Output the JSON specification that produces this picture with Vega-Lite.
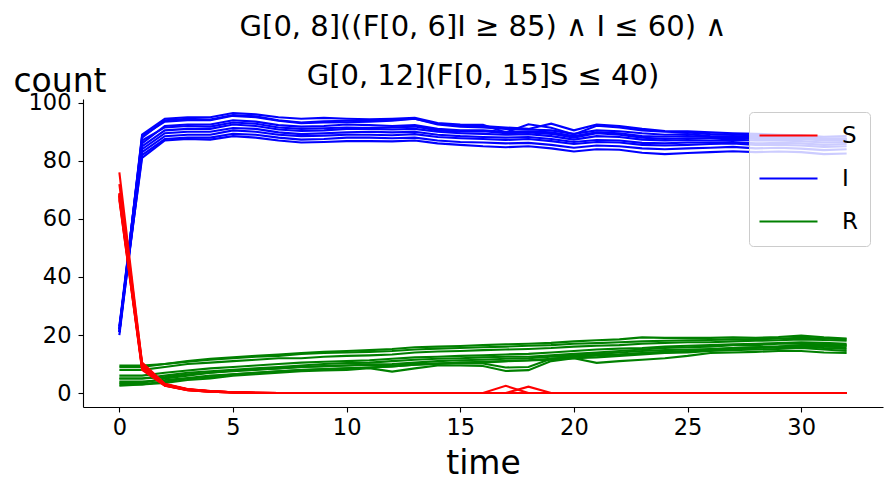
{
  "$schema": "https://vega.github.io/schema/vega-lite/v6.json",
  "description": "Trajectories of S, I and R counts over time for several runs.",
  "width": 800,
  "height": 308,
  "autosize": "none",
  "padding": {"left": 83, "top": 99, "right": 10, "bottom": 83},
  "title": {
    "text": ["G[0, 8]((F[0, 6]I ≥ 85) ∧ I ≤ 60) ∧", "G[0, 12](F[0, 15]S ≤ 40)"],
    "font": "DejaVu Sans",
    "fontSize": 29,
    "fontWeight": "normal",
    "color": "black",
    "lineHeight": 49,
    "anchor": "middle",
    "baseline": "bottom",
    "offset": 0,
    "dy": 55
  },
  "data": {
    "values": [
      {"r":"A","t":0,"S":76,"I":21,"R":3},{"r":"A","t":1,"S":10,"I":89,"R":3},{"r":"A","t":2,"S":3,"I":94.5,"R":3.5},{"r":"A","t":3,"S":1.2,"I":95,"R":4.5},{"r":"A","t":4,"S":0.6,"I":95,"R":5},{"r":"A","t":5,"S":0.3,"I":96.5,"R":6},{"r":"A","t":6,"S":0.1,"I":96,"R":6.5},{"r":"A","t":7,"S":0,"I":95,"R":7},{"r":"A","t":8,"S":0,"I":94.5,"R":7.5},{"r":"A","t":9,"S":0,"I":94.8,"R":7.8},{"r":"A","t":10,"S":0,"I":94.5,"R":8},{"r":"A","t":11,"S":0,"I":94.3,"R":8.6},{"r":"A","t":12,"S":0,"I":94.5,"R":7.4},{"r":"A","t":13,"S":0,"I":94.8,"R":8.5},{"r":"A","t":14,"S":0,"I":93,"R":9.5},{"r":"A","t":15,"S":0,"I":92.5,"R":9.5},{"r":"A","t":16,"S":0,"I":92.4,"R":9.3},{"r":"A","t":17,"S":2.5,"I":89.8,"R":7.6},{"r":"A","t":18,"S":0,"I":92.6,"R":7.9},{"r":"A","t":19,"S":0,"I":91.4,"R":11},{"r":"A","t":20,"S":0,"I":89.1,"R":12},{"r":"A","t":21,"S":0,"I":92.1,"R":10.4},{"r":"A","t":22,"S":0,"I":91.5,"R":11},{"r":"A","t":23,"S":0,"I":90.5,"R":11.5},{"r":"A","t":24,"S":0,"I":90,"R":12},{"r":"A","t":25,"S":0,"I":89.8,"R":12.8},{"r":"A","t":26,"S":0,"I":89.2,"R":13.8},{"r":"A","t":27,"S":0,"I":89,"R":14},{"r":"A","t":28,"S":0,"I":88.8,"R":14.2},{"r":"A","t":29,"S":0,"I":88.5,"R":14.5},{"r":"A","t":30,"S":0,"I":88.2,"R":14.5},{"r":"A","t":31,"S":0,"I":87.8,"R":14},{"r":"A","t":32,"S":0,"I":87.5,"R":13.8},
      {"r":"B","t":0,"S":68.5,"I":22,"R":4},{"r":"B","t":1,"S":9.5,"I":88,"R":4},{"r":"B","t":2,"S":2.8,"I":94,"R":4.5},{"r":"B","t":3,"S":1.2,"I":94.5,"R":5.2},{"r":"B","t":4,"S":0.6,"I":94.2,"R":6},{"r":"B","t":5,"S":0.3,"I":95.8,"R":6.5},{"r":"B","t":6,"S":0.1,"I":95.3,"R":7},{"r":"B","t":7,"S":0,"I":94,"R":7.5},{"r":"B","t":8,"S":0,"I":93.2,"R":7.8},{"r":"B","t":9,"S":0,"I":93.6,"R":8.2},{"r":"B","t":10,"S":0,"I":93.8,"R":8.5},{"r":"B","t":11,"S":0,"I":94,"R":8.8},{"r":"B","t":12,"S":0,"I":94.2,"R":9.2},{"r":"B","t":13,"S":0,"I":94.5,"R":9.8},{"r":"B","t":14,"S":0,"I":92.8,"R":10.2},{"r":"B","t":15,"S":0,"I":92,"R":10.5},{"r":"B","t":16,"S":0,"I":92,"R":10.8},{"r":"B","t":17,"S":0,"I":91.5,"R":11},{"r":"B","t":18,"S":0,"I":91,"R":11.3},{"r":"B","t":19,"S":0,"I":92.8,"R":11.8},{"r":"B","t":20,"S":0,"I":90.5,"R":12.5},{"r":"B","t":21,"S":0,"I":92.5,"R":13},{"r":"B","t":22,"S":0,"I":92,"R":13.3},{"r":"B","t":23,"S":0,"I":91,"R":13.8},{"r":"B","t":24,"S":0,"I":90.3,"R":14.2},{"r":"B","t":25,"S":0,"I":90.2,"R":14.5},{"r":"B","t":26,"S":0,"I":89.8,"R":14.8},{"r":"B","t":27,"S":0,"I":89.5,"R":15.2},{"r":"B","t":28,"S":0,"I":89.3,"R":15.5},{"r":"B","t":29,"S":0,"I":89,"R":15.8},{"r":"B","t":30,"S":0,"I":88.8,"R":16},{"r":"B","t":31,"S":0,"I":88.3,"R":15.5},{"r":"B","t":32,"S":0,"I":88.5,"R":15.2},
      {"r":"C","t":0,"S":68,"I":21,"R":5},{"r":"C","t":1,"S":9,"I":86,"R":5},{"r":"C","t":2,"S":2.6,"I":92,"R":6},{"r":"C","t":3,"S":1.1,"I":92.5,"R":7},{"r":"C","t":4,"S":0.5,"I":92.5,"R":7.5},{"r":"C","t":5,"S":0.2,"I":94,"R":8},{"r":"C","t":6,"S":0,"I":93.5,"R":8.5},{"r":"C","t":7,"S":0,"I":92.3,"R":9},{"r":"C","t":8,"S":0,"I":91.8,"R":9.5},{"r":"C","t":9,"S":0,"I":92,"R":10},{"r":"C","t":10,"S":0,"I":92.5,"R":10.3},{"r":"C","t":11,"S":0,"I":92.3,"R":10.5},{"r":"C","t":12,"S":0,"I":92,"R":11},{"r":"C","t":13,"S":0,"I":92.3,"R":11.5},{"r":"C","t":14,"S":0,"I":91,"R":11.8},{"r":"C","t":15,"S":0,"I":90.5,"R":12},{"r":"C","t":16,"S":0,"I":90.5,"R":12.3},{"r":"C","t":17,"S":0,"I":90,"R":12.5},{"r":"C","t":18,"S":0,"I":90.2,"R":12.5},{"r":"C","t":19,"S":0,"I":89.8,"R":13},{"r":"C","t":20,"S":0,"I":88.5,"R":13.5},{"r":"C","t":21,"S":0,"I":89.8,"R":14},{"r":"C","t":22,"S":0,"I":89.5,"R":14.5},{"r":"C","t":23,"S":0,"I":88.5,"R":15},{"r":"C","t":24,"S":0,"I":88.3,"R":15.5},{"r":"C","t":25,"S":0,"I":88.5,"R":15.8},{"r":"C","t":26,"S":0,"I":88.2,"R":16},{"r":"C","t":27,"S":0,"I":88.5,"R":16.5},{"r":"C","t":28,"S":0,"I":88.2,"R":16.5},{"r":"C","t":29,"S":0,"I":88,"R":17},{"r":"C","t":30,"S":0,"I":87.8,"R":17},{"r":"C","t":31,"S":0,"I":87.3,"R":16.8},{"r":"C","t":32,"S":0,"I":87.5,"R":16.5},
      {"r":"D","t":0,"S":67,"I":23,"R":8},{"r":"D","t":1,"S":8,"I":87,"R":8},{"r":"D","t":2,"S":2.5,"I":91.5,"R":9},{"r":"D","t":3,"S":1,"I":92,"R":10},{"r":"D","t":4,"S":0.5,"I":91.8,"R":10.5},{"r":"D","t":5,"S":0.2,"I":93.2,"R":11},{"r":"D","t":6,"S":0,"I":92.8,"R":11.5},{"r":"D","t":7,"S":0,"I":91.5,"R":12},{"r":"D","t":8,"S":0,"I":91,"R":12},{"r":"D","t":9,"S":0,"I":91.2,"R":12.5},{"r":"D","t":10,"S":0,"I":91.5,"R":12.8},{"r":"D","t":11,"S":0,"I":91.3,"R":13},{"r":"D","t":12,"S":0,"I":91.5,"R":13.3},{"r":"D","t":13,"S":0,"I":91.8,"R":14},{"r":"D","t":14,"S":0,"I":90.5,"R":14.3},{"r":"D","t":15,"S":0,"I":90,"R":14.5},{"r":"D","t":16,"S":0,"I":90.2,"R":14.8},{"r":"D","t":17,"S":0,"I":89.5,"R":15},{"r":"D","t":18,"S":0,"I":89.8,"R":15.2},{"r":"D","t":19,"S":0,"I":89.3,"R":15.5},{"r":"D","t":20,"S":0,"I":88,"R":16},{"r":"D","t":21,"S":0,"I":89.5,"R":16.3},{"r":"D","t":22,"S":0,"I":89,"R":16.5},{"r":"D","t":23,"S":0,"I":88,"R":17},{"r":"D","t":24,"S":0,"I":87.5,"R":17.3},{"r":"D","t":25,"S":0,"I":87.8,"R":17.5},{"r":"D","t":26,"S":0,"I":87.8,"R":17.5},{"r":"D","t":27,"S":0,"I":88,"R":17.8},{"r":"D","t":28,"S":0,"I":87.5,"R":18},{"r":"D","t":29,"S":0,"I":87.6,"R":18.2},{"r":"D","t":30,"S":0,"I":87.5,"R":18.5},{"r":"D","t":31,"S":0,"I":87,"R":18.3},{"r":"D","t":32,"S":0,"I":87.2,"R":18},
      {"r":"E","t":0,"S":69,"I":20,"R":9.5},{"r":"E","t":1,"S":9,"I":84,"R":9.5},{"r":"E","t":2,"S":2.8,"I":89.5,"R":10},{"r":"E","t":3,"S":1.3,"I":90,"R":10.8},{"r":"E","t":4,"S":0.7,"I":90,"R":11.5},{"r":"E","t":5,"S":0.3,"I":91.3,"R":12},{"r":"E","t":6,"S":0.1,"I":91,"R":12.5},{"r":"E","t":7,"S":0,"I":89.8,"R":12.8},{"r":"E","t":8,"S":0,"I":89.2,"R":13.5},{"r":"E","t":9,"S":0,"I":89.5,"R":13.8},{"r":"E","t":10,"S":0,"I":89.8,"R":14},{"r":"E","t":11,"S":0,"I":90,"R":14.2},{"r":"E","t":12,"S":0,"I":89.8,"R":14.5},{"r":"E","t":13,"S":0,"I":90,"R":15},{"r":"E","t":14,"S":0,"I":89,"R":15.3},{"r":"E","t":15,"S":0,"I":88.5,"R":15.5},{"r":"E","t":16,"S":0,"I":88.2,"R":15.8},{"r":"E","t":17,"S":0,"I":88,"R":16},{"r":"E","t":18,"S":0,"I":88.2,"R":16.3},{"r":"E","t":19,"S":0,"I":87.5,"R":16.5},{"r":"E","t":20,"S":0,"I":86.5,"R":17},{"r":"E","t":21,"S":0,"I":87.2,"R":17.2},{"r":"E","t":22,"S":0,"I":87,"R":17.5},{"r":"E","t":23,"S":0,"I":86.2,"R":17.8},{"r":"E","t":24,"S":0,"I":86,"R":18},{"r":"E","t":25,"S":0,"I":86.3,"R":18.2},{"r":"E","t":26,"S":0,"I":86.3,"R":18.3},{"r":"E","t":27,"S":0,"I":86.5,"R":18.5},{"r":"E","t":28,"S":0,"I":86,"R":18.5},{"r":"E","t":29,"S":0,"I":86.2,"R":18.8},{"r":"E","t":30,"S":0,"I":86,"R":19},{"r":"E","t":31,"S":0,"I":85.5,"R":18.8},{"r":"E","t":32,"S":0,"I":85.8,"R":18.5},
      {"r":"F","t":0,"S":72,"I":22,"R":6},{"r":"F","t":1,"S":10.5,"I":83,"R":6},{"r":"F","t":2,"S":3.2,"I":88.5,"R":7},{"r":"F","t":3,"S":1.4,"I":89,"R":7.8},{"r":"F","t":4,"S":0.7,"I":89,"R":8.5},{"r":"F","t":5,"S":0.3,"I":90.5,"R":9},{"r":"F","t":6,"S":0.1,"I":90,"R":9.5},{"r":"F","t":7,"S":0,"I":89,"R":10},{"r":"F","t":8,"S":0,"I":88.5,"R":10.5},{"r":"F","t":9,"S":0,"I":88.7,"R":10.8},{"r":"F","t":10,"S":0,"I":89,"R":11},{"r":"F","t":11,"S":0,"I":89,"R":11.3},{"r":"F","t":12,"S":0,"I":88.8,"R":11.8},{"r":"F","t":13,"S":0,"I":89.2,"R":12.3},{"r":"F","t":14,"S":0,"I":88.2,"R":12.5},{"r":"F","t":15,"S":0,"I":87.8,"R":12.8},{"r":"F","t":16,"S":0,"I":87.5,"R":13},{"r":"F","t":17,"S":0,"I":87.2,"R":13.3},{"r":"F","t":18,"S":0,"I":87.5,"R":13.5},{"r":"F","t":19,"S":0,"I":86.8,"R":14},{"r":"F","t":20,"S":0,"I":85.8,"R":14.5},{"r":"F","t":21,"S":0,"I":86.5,"R":15},{"r":"F","t":22,"S":0,"I":86.3,"R":15.3},{"r":"F","t":23,"S":0,"I":85.5,"R":15.5},{"r":"F","t":24,"S":0,"I":85.3,"R":16},{"r":"F","t":25,"S":0,"I":85.5,"R":16.3},{"r":"F","t":26,"S":0,"I":85.8,"R":16.5},{"r":"F","t":27,"S":0,"I":86,"R":16.8},{"r":"F","t":28,"S":0,"I":85.5,"R":17},{"r":"F","t":29,"S":0,"I":85.5,"R":17.2},{"r":"F","t":30,"S":0,"I":85.3,"R":17.5},{"r":"F","t":31,"S":0,"I":84.8,"R":17.3},{"r":"F","t":32,"S":0,"I":85,"R":17},
      {"r":"G","t":0,"S":68,"I":21,"R":3.5},{"r":"G","t":1,"S":10,"I":82,"R":3.5},{"r":"G","t":2,"S":3,"I":87.5,"R":5},{"r":"G","t":3,"S":1.3,"I":88,"R":6},{"r":"G","t":4,"S":0.6,"I":88,"R":7},{"r":"G","t":5,"S":0.3,"I":89.3,"R":7.8},{"r":"G","t":6,"S":0.1,"I":89,"R":8.2},{"r":"G","t":7,"S":0,"I":88,"R":8.5},{"r":"G","t":8,"S":0,"I":87.3,"R":9},{"r":"G","t":9,"S":0,"I":87.5,"R":9.3},{"r":"G","t":10,"S":0,"I":88,"R":9.5},{"r":"G","t":11,"S":0,"I":88,"R":9.8},{"r":"G","t":12,"S":0,"I":87.8,"R":10},{"r":"G","t":13,"S":0,"I":88,"R":10.5},{"r":"G","t":14,"S":0,"I":87,"R":11},{"r":"G","t":15,"S":0,"I":86.5,"R":11.3},{"r":"G","t":16,"S":0,"I":86.3,"R":11.5},{"r":"G","t":17,"S":0,"I":86,"R":11.8},{"r":"G","t":18,"S":0,"I":86.2,"R":12},{"r":"G","t":19,"S":0,"I":85.5,"R":12.5},{"r":"G","t":20,"S":0,"I":84.5,"R":13},{"r":"G","t":21,"S":0,"I":85.3,"R":13.5},{"r":"G","t":22,"S":0,"I":85,"R":14},{"r":"G","t":23,"S":0,"I":84.3,"R":14.5},{"r":"G","t":24,"S":0,"I":84,"R":14.8},{"r":"G","t":25,"S":0,"I":84.3,"R":15},{"r":"G","t":26,"S":0,"I":84.5,"R":15.2},{"r":"G","t":27,"S":0,"I":84.8,"R":15.5},{"r":"G","t":28,"S":0,"I":84.3,"R":15.8},{"r":"G","t":29,"S":0,"I":84.5,"R":16},{"r":"G","t":30,"S":0,"I":84.2,"R":16.2},{"r":"G","t":31,"S":0,"I":83.7,"R":16},{"r":"G","t":32,"S":0,"I":84,"R":15.8},
      {"r":"H","t":0,"S":67.5,"I":23,"R":2.5},{"r":"H","t":1,"S":9.5,"I":81,"R":3},{"r":"H","t":2,"S":3,"I":87,"R":4},{"r":"H","t":3,"S":1.2,"I":87.5,"R":5},{"r":"H","t":4,"S":0.6,"I":87.3,"R":5.5},{"r":"H","t":5,"S":0.3,"I":88.5,"R":6.5},{"r":"H","t":6,"S":0,"I":88,"R":7},{"r":"H","t":7,"S":0,"I":87,"R":7.5},{"r":"H","t":8,"S":0,"I":86.3,"R":8},{"r":"H","t":9,"S":0,"I":86.5,"R":8.3},{"r":"H","t":10,"S":0,"I":86.8,"R":8.5},{"r":"H","t":11,"S":0,"I":86.8,"R":8.8},{"r":"H","t":12,"S":0,"I":86.7,"R":9.2},{"r":"H","t":13,"S":0,"I":87,"R":9.8},{"r":"H","t":14,"S":0,"I":86,"R":10},{"r":"H","t":15,"S":0,"I":85.5,"R":10.5},{"r":"H","t":16,"S":0,"I":85,"R":10.5},{"r":"H","t":17,"S":0,"I":84.7,"R":11},{"r":"H","t":18,"S":0,"I":85,"R":11.2},{"r":"H","t":19,"S":0,"I":84.3,"R":11.5},{"r":"H","t":20,"S":0,"I":83.2,"R":12},{"r":"H","t":21,"S":0,"I":84,"R":12.3},{"r":"H","t":22,"S":0,"I":83.8,"R":12.8},{"r":"H","t":23,"S":0,"I":82.8,"R":13.3},{"r":"H","t":24,"S":0,"I":82.3,"R":13.8},{"r":"H","t":25,"S":0,"I":82.7,"R":14},{"r":"H","t":26,"S":0,"I":83,"R":14.5},{"r":"H","t":27,"S":0,"I":83.3,"R":14.8},{"r":"H","t":28,"S":0,"I":83,"R":15},{"r":"H","t":29,"S":0,"I":83.2,"R":15.2},{"r":"H","t":30,"S":0,"I":83,"R":15.5},{"r":"H","t":31,"S":0,"I":82.3,"R":15},{"r":"H","t":32,"S":0,"I":82.5,"R":14.5},
      {"r":"I","t":0,"S":68.5,"I":21,"R":5},{"r":"I","t":1,"S":8.5,"I":88.5,"R":5},{"r":"I","t":2,"S":2.7,"I":93.5,"R":5.5},{"r":"I","t":3,"S":1.1,"I":94,"R":6.5},{"r":"I","t":4,"S":0.5,"I":94,"R":7},{"r":"I","t":5,"S":0.2,"I":95.5,"R":7.5},{"r":"I","t":6,"S":0,"I":95,"R":8},{"r":"I","t":7,"S":0,"I":93.8,"R":8.5},{"r":"I","t":8,"S":0,"I":93,"R":9},{"r":"I","t":9,"S":0,"I":93.2,"R":9.2},{"r":"I","t":10,"S":0,"I":93.3,"R":9.5},{"r":"I","t":11,"S":0,"I":93.5,"R":9.8},{"r":"I","t":12,"S":0,"I":93.8,"R":9.5},{"r":"I","t":13,"S":0,"I":94.5,"R":10},{"r":"I","t":14,"S":0,"I":92.5,"R":10.2},{"r":"I","t":15,"S":0,"I":91.8,"R":10.3},{"r":"I","t":16,"S":0,"I":91.5,"R":10.2},{"r":"I","t":17,"S":0,"I":91,"R":8.8},{"r":"I","t":18,"S":2.2,"I":90.8,"R":9},{"r":"I","t":19,"S":0,"I":90.5,"R":11.8},{"r":"I","t":20,"S":0,"I":89.3,"R":12.5},{"r":"I","t":21,"S":0,"I":90.5,"R":13},{"r":"I","t":22,"S":0,"I":90.2,"R":13.3},{"r":"I","t":23,"S":0,"I":89.5,"R":13.7},{"r":"I","t":24,"S":0,"I":89,"R":14},{"r":"I","t":25,"S":0,"I":89.2,"R":14.3},{"r":"I","t":26,"S":0,"I":88.5,"R":15},{"r":"I","t":27,"S":0,"I":88.3,"R":15.5},{"r":"I","t":28,"S":0,"I":88,"R":15.8},{"r":"I","t":29,"S":0,"I":88.2,"R":16},{"r":"I","t":30,"S":0,"I":88,"R":16.5},{"r":"I","t":31,"S":0,"I":87.5,"R":16.5},{"r":"I","t":32,"S":0,"I":87.8,"R":16.3},
      {"r":"J","t":0,"S":66.5,"I":22,"R":9},{"r":"J","t":1,"S":8.5,"I":85,"R":9},{"r":"J","t":2,"S":2.6,"I":90.5,"R":10},{"r":"J","t":3,"S":1,"I":91,"R":11},{"r":"J","t":4,"S":0.5,"I":91,"R":11.8},{"r":"J","t":5,"S":0.2,"I":92.5,"R":12.3},{"r":"J","t":6,"S":0,"I":92,"R":12.8},{"r":"J","t":7,"S":0,"I":90.8,"R":13.3},{"r":"J","t":8,"S":0,"I":90.3,"R":13.8},{"r":"J","t":9,"S":0,"I":90.5,"R":14.2},{"r":"J","t":10,"S":0,"I":91,"R":14.5},{"r":"J","t":11,"S":0,"I":91,"R":14.8},{"r":"J","t":12,"S":0,"I":90.8,"R":15.2},{"r":"J","t":13,"S":0,"I":91,"R":15.8},{"r":"J","t":14,"S":0,"I":90,"R":16},{"r":"J","t":15,"S":0,"I":89.5,"R":16.2},{"r":"J","t":16,"S":0,"I":89.3,"R":16.5},{"r":"J","t":17,"S":0,"I":89,"R":16.8},{"r":"J","t":18,"S":0,"I":89.2,"R":17},{"r":"J","t":19,"S":0,"I":88.5,"R":17.3},{"r":"J","t":20,"S":0,"I":87.3,"R":17.8},{"r":"J","t":21,"S":0,"I":88.5,"R":18.2},{"r":"J","t":22,"S":0,"I":88.2,"R":18.5},{"r":"J","t":23,"S":0,"I":87.3,"R":19.2},{"r":"J","t":24,"S":0,"I":87,"R":19},{"r":"J","t":25,"S":0,"I":87.2,"R":19},{"r":"J","t":26,"S":0,"I":87,"R":19},{"r":"J","t":27,"S":0,"I":87.3,"R":19.2},{"r":"J","t":28,"S":0,"I":87,"R":19},{"r":"J","t":29,"S":0,"I":87,"R":19.3},{"r":"J","t":30,"S":0,"I":86.8,"R":19.8},{"r":"J","t":31,"S":0,"I":86.3,"R":19.2},{"r":"J","t":32,"S":0,"I":86.5,"R":18.8}
    ]
  },
  "transform": [{"fold": ["S", "I", "R"], "as": ["species", "count"]}],
  "encoding": {
    "x": {
      "field": "t",
      "type": "quantitative",
      "title": "time",
      "scale": {"domain": [-1.6, 33.6], "nice": false, "zero": false},
      "axis": {"values": [0, 5, 10, 15, 20, 25, 30], "labelPadding": 4, "titleY": 66, "titleBaseline": "alphabetic"}
    },
    "y": {
      "field": "count",
      "type": "quantitative",
      "title": "count",
      "scale": {"domain": [-4.8, 101.3], "nice": false, "zero": false},
      "axis": {
        "values": [0, 20, 40, 60, 80, 100],
        "labelPadding": 7,
        "titleAngle": 0,
        "titleAlign": "center",
        "titleBaseline": "alphabetic",
        "titleX": -23.5,
        "titleY": -8
      }
    },
    "color": {
      "field": "species",
      "type": "nominal",
      "title": null,
      "scale": {"domain": ["S", "I", "R"], "range": ["#ff0000", "#0000ff", "#008000"]},
      "legend": {
        "orient": "top-right",
        "offset": 13,
        "symbolType": "M-3,0H3",
        "symbolSize": 374,
        "symbolStrokeWidth": 2,
        "symbolOffset": 16,
        "labelOffset": 42,
        "rowPadding": 19,
        "padding": 12,
        "fillColor": "rgba(255,255,255,0.8)",
        "strokeColor": "#cccccc",
        "cornerRadius": 4
      }
    },
    "detail": {"field": "r", "type": "nominal"}
  },
  "layer": [
    {"transform": [{"filter": "datum.species === 'R'"}], "mark": {"type": "line", "strokeWidth": 2.1}},
    {"transform": [{"filter": "datum.species === 'I'"}], "mark": {"type": "line", "strokeWidth": 2.1}},
    {"transform": [{"filter": "datum.species === 'S'"}], "mark": {"type": "line", "strokeWidth": 2.1}}
  ],
  "config": {
    "view": {"stroke": null},
    "font": "DejaVu Sans",
    "axis": {
      "grid": false,
      "domainColor": "black",
      "domainWidth": 1.1,
      "tickColor": "black",
      "tickWidth": 1.1,
      "tickSize": 5,
      "labelFont": "DejaVu Sans",
      "labelFontSize": 22.5,
      "labelColor": "black",
      "titleFont": "DejaVu Sans",
      "titleFontSize": 33,
      "titleFontWeight": "normal",
      "titleColor": "black"
    },
    "legend": {
      "labelFont": "DejaVu Sans",
      "labelFontSize": 23,
      "labelColor": "black"
    }
  }
}
